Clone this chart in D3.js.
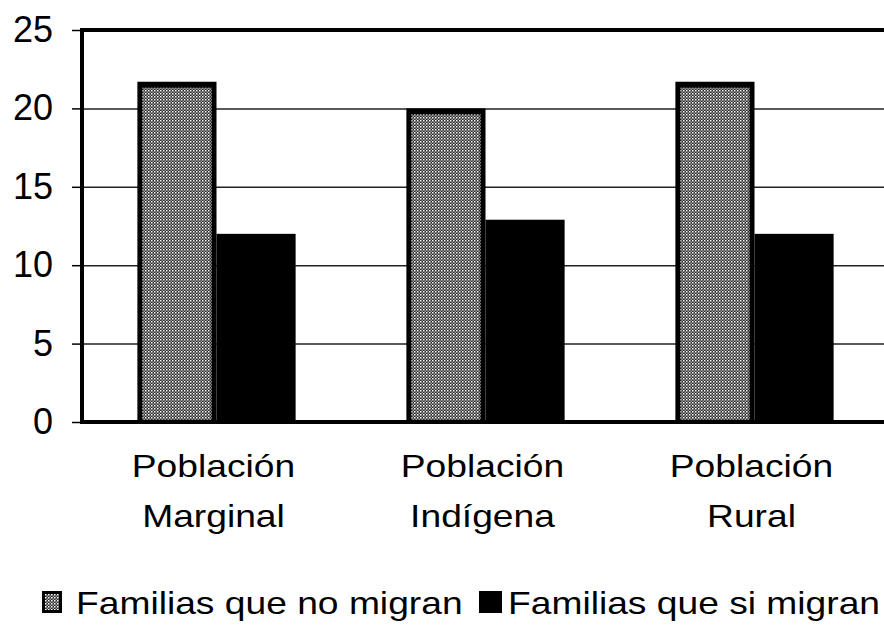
<!DOCTYPE html>
<html lang="es">
<head>
  <meta charset="UTF-8">
  <title>Familias que migran</title>
  <style>
    body { margin: 0; background: #fff; }
    text { font-family: "Liberation Sans", Arial, sans-serif; fill: #000; }
  </style>
</head>
<body>
  <svg></svg>
  <script src="https://cdn.jsdelivr.net/npm/d3@7"></script>
  <script>
    const categories = ["Población Marginal", "Población Indígena", "Población Rural"]
    const seriesNames = ["Familias que no migran", "Familias que si migran"]
    const noMigran = [21.7, 20, 21.7]
    const siMigran = [12, 12.9, 12]
    const yTicks = [0, 5, 10, 15, 20, 25]

    const values = [noMigran, siMigran]
    const data = categories.map((c, i) => ({
      cat: c,
      vals: seriesNames.map((s, j) => ({key: s, value: values[j][i]}))
    }))

    var width = 884
    var height = 626
    var plotLeft = 82, plotRight = 889, plotTop = 30, plotBottom = 422
    var textScale = 1.2

    var svg = d3.select("svg")
      .attr("width", width)
      .attr("height", height)

    // dotted grey fill like the printed screen
    var defs = svg.append("defs")
    var pat = defs.append("pattern")
      .attr("id", "dots")
      .attr("width", 3).attr("height", 3)
      .attr("patternUnits", "userSpaceOnUse")
    pat.append("rect").attr("width", 3).attr("height", 3).attr("fill", "#2a2a2a")
    pat.append("rect").attr("width", 1.5).attr("height", 1.5).attr("fill", "#fff")
    pat.append("rect").attr("x", 1.5).attr("y", 1.5).attr("width", 1.5).attr("height", 1.5).attr("fill", "#9a9a9a")

    var x0 = d3.scaleBand()
      .domain(categories)
      .range([plotLeft, plotRight])

    var x1 = d3.scaleBand()
      .domain(seriesNames)
      .range([0, x0.bandwidth()])
      .paddingOuter(0.7)

    var y = d3.scaleLinear()
      .domain([0, 25])
      .range([plotBottom, plotTop])

    // gridlines
    svg.append("g")
      .attr("transform", `translate(${plotLeft},0)`)
      .call(d3.axisLeft(y).tickValues(yTicks.slice(1, -1)).tickSize(-(plotRight - plotLeft)).tickFormat(""))
      .call(g => g.select(".domain").remove())
      .call(g => g.selectAll("line").attr("stroke", "#222").attr("stroke-width", 1.5))

    // left axis with labels
    svg.append("g")
      .attr("transform", `translate(${plotLeft},0)`)
      .call(d3.axisLeft(y).tickValues(yTicks).tickSize(10).tickPadding(19))
      .call(g => g.select(".domain").remove())
      .call(g => g.selectAll("line").attr("stroke", "#000").attr("stroke-width", 1.5))
      .call(g => g.selectAll("text").attr("font-size", 36).attr("font-family", "Liberation Sans, Arial, sans-serif"))

    var groups = svg.append("g")
      .selectAll("g")
      .data(data)
      .join("g")
      .attr("transform", d => `translate(${x0(d.cat)},0)`)

    var bw = x1.bandwidth()
    var border = 5

    groups.selectAll("rect.bar")
      .data(d => d.vals)
      .join("rect")
      .attr("class", "bar")
      .attr("x", d => x1(d.key))
      .attr("y", d => y(d.value))
      .attr("width", bw)
      .attr("height", d => y(0) - y(d.value))
      .attr("fill", "#000")

    groups.selectAll("rect.fillin")
      .data(d => d.vals.filter(v => v.key === seriesNames[0]))
      .join("rect")
      .attr("class", "fillin")
      .attr("x", d => x1(d.key) + border)
      .attr("y", d => y(d.value) + border + 1)
      .attr("width", bw - 2 * border)
      .attr("height", d => y(0) - y(d.value) - border - 1)
      .attr("fill", "url(#dots)")

    // frame lines
    svg.append("line")
      .attr("x1", plotLeft).attr("x2", width).attr("y1", y(25)).attr("y2", y(25))
      .attr("stroke", "#000").attr("stroke-width", 4)
    svg.append("line")
      .attr("x1", plotLeft).attr("x2", plotLeft).attr("y1", y(25) - 2).attr("y2", y(0) + 2)
      .attr("stroke", "#000").attr("stroke-width", 4)
    svg.append("line")
      .attr("x1", plotLeft - 2).attr("x2", width).attr("y1", y(0)).attr("y2", y(0))
      .attr("stroke", "#000").attr("stroke-width", 4)

    // category labels, two lines each
    var labels = svg.append("g")
      .selectAll("text")
      .data(categories)
      .join("text")
      .attr("text-anchor", "middle")
      .attr("font-size", 31)
      .attr("transform", d => `translate(${x0(d) + x0.bandwidth() / 2 - 3},477) scale(${textScale},1)`)
    labels.selectAll("tspan")
      .data(d => {
        var k = d.indexOf(" ")
        return [d.slice(0, k), d.slice(k + 1)]
      })
      .join("tspan")
      .attr("x", 0)
      .attr("y", (d, i) => i * 50)
      .text(d => d)

    // legend
    var legendX = [42, 479]
    var legend = svg.append("g")
      .selectAll("g")
      .data(seriesNames)
      .join("g")
      .attr("transform", (d, i) => `translate(${legendX[i]},591)`)

    legend.append("rect")
      .attr("width", (d, i) => i ? 23 : 20)
      .attr("height", 22)
      .attr("fill", "#000")
    legend.filter((d, i) => i === 0).append("rect")
      .attr("x", 3).attr("y", 3)
      .attr("width", 14).attr("height", 16)
      .attr("fill", "url(#dots)")
    legend.append("text")
      .attr("transform", (d, i) => `translate(${i ? 29 : 34},23) scale(${textScale},1)`)
      .attr("font-size", 31)
      .text(d => d)
  </script>
</body>
</html>
